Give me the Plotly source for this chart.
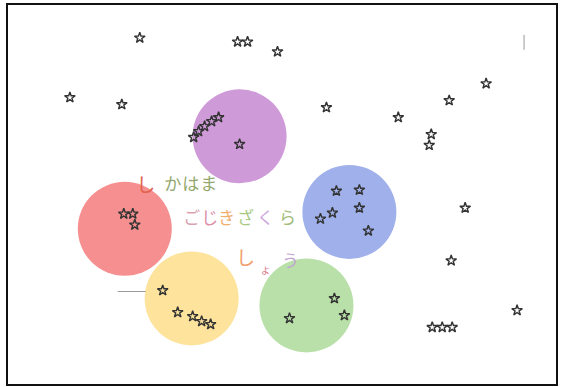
import plotly.graph_objects as go

# five coloured discs (centre x, centre y in picture units)
circle_x = [240, 125, 350, 192, 307]
circle_y = [135, 228, 211, 298, 305]
circle_colors = ["#cf9ad8", "#f68f8f", "#9fb0ea", "#fde39c", "#b8e0a8"]

# star markers
star_x = [140, 238, 248, 278, 70, 122,
          194, 199, 205, 212, 219, 240,
          327, 399, 450, 487, 432, 430,
          124, 133, 135,
          337, 360, 360, 333, 321, 369,
          466, 452,
          163, 178, 193, 202, 211,
          290, 335, 345,
          518, 433, 443, 453]
star_y = [36, 40, 40, 50, 96, 103,
          136, 130, 125, 120, 116, 143,
          106, 116, 99, 82, 133, 144,
          213, 213, 224,
          190, 189, 207, 212, 218, 230,
          207, 260,
          290, 312, 316, 321, 324,
          318, 298, 315,
          310, 327, 327, 327]

# hiragana words, one character at a time
word1 = ["し", "か", "は", "ま"]
word1_x = [146, 173, 191, 209]
word1_y = [186, 185, 185, 185]
word1_colors = ["#e2624e", "#93a86e", "#93a86e", "#93a86e"]

word2 = ["ご", "じ", "き", "ざ", "く", "ら"]
word2_x = [192, 210, 227, 246, 266, 288]
word2_y = [219, 219, 219, 219, 219, 219]
word2_colors = ["#d79fb0", "#dc8fa6", "#efae6c", "#a9c982", "#cca2dc", "#a3bc7c"]

word3 = ["し", "ょ", "う"]
word3_x = [246, 266, 291]
word3_y = [260, 271, 262]
word3_colors = ["#f0a070", "#e07f93", "#c2a4d4"]

# stray pencil marks
mark1_x = [525, 525]
mark1_y = [33, 48]
mark2_x = [118, 146]
mark2_y = [291, 291]

fig = go.Figure()

fig.add_trace(go.Scatter(
    x=circle_x, y=circle_y, mode="markers",
    marker=dict(size=94, color=circle_colors, line=dict(width=0)),
    hoverinfo="skip",
))

for mx, my in [(mark1_x, mark1_y), (mark2_x, mark2_y)]:
    fig.add_trace(go.Scatter(x=mx, y=my, mode="lines",
                             line=dict(color="#9a9a9a", width=1), hoverinfo="skip"))

fig.add_trace(go.Scatter(
    x=star_x, y=star_y, mode="markers",
    marker=dict(symbol="star-open", size=8, color="#333",
                line=dict(color="#333", width=1.4)),
))

for chars, xs, ys, cols, sizes in [(word1, word1_x, word1_y, word1_colors, [19, 17, 17, 17]),
                                   (word2, word2_x, word2_y, word2_colors, [17] * 6),
                                   (word3, word3_x, word3_y, word3_colors, [19, 11, 17])]:
    fig.add_trace(go.Scatter(
        x=xs, y=ys, mode="text", text=chars,
        textfont=dict(family="Noto Sans CJK JP", size=sizes, color=cols),
        hoverinfo="skip",
    ))

axis = dict(visible=True, showgrid=False, zeroline=False, showticklabels=False,
            ticks="", showline=True, mirror=True, linecolor="#111", linewidth=2)
fig.update_xaxes(range=[8, 557], **axis)
fig.update_yaxes(range=[384, 3], **axis)
fig.update_layout(
    width=561, height=387,
    margin=dict(l=8, r=4, t=3, b=3),
    paper_bgcolor="white", plot_bgcolor="white",
    showlegend=False,
)

fig.write_html("out.html", config={"displayModeBar": False},
               post_script="document.body.style.margin='0';")
